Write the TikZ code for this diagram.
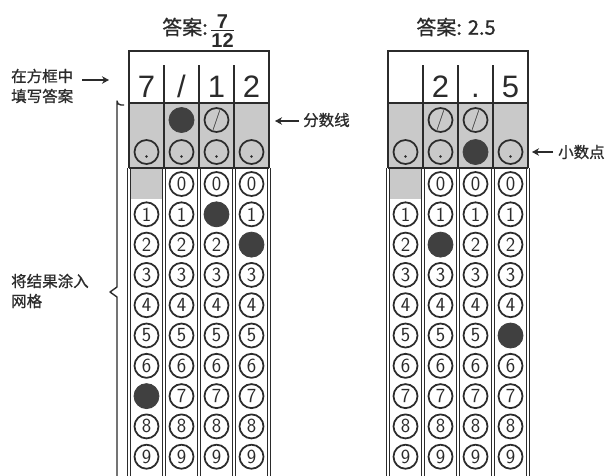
\documentclass[tikz,border=0pt]{standalone}
\usepackage{fontspec}
\usetikzlibrary{arrows.meta}
\newfontfamily\cjk{Noto Sans CJK SC}[FakeBold=0.9]
\newfontfamily\hd{Liberation Sans}
\definecolor{ink}{HTML}{2B2B2B}
\definecolor{gryfill}{HTML}{C9C9C9}
\definecolor{darkfill}{HTML}{404040}
% filled bubbles
\expandafter\def\csname fillL07\endcsname{}
\expandafter\def\csname fillL21\endcsname{}
\expandafter\def\csname fillL32\endcsname{}
\expandafter\def\csname fillLs1\endcsname{}
\expandafter\def\csname fillR12\endcsname{}
\expandafter\def\csname fillR35\endcsname{}
\expandafter\def\csname fillRd2\endcsname{}
\begin{document}
\begin{tikzpicture}[x=1pt,y=-1pt,
  bub/.style={circle,draw=ink,line width=1.75pt,minimum size=24pt,inner sep=0pt,
    font=\sffamily\fontsize{20}{20}\selectfont,text=ink},
  fbub/.style={circle,fill=darkfill,draw=darkfill,line width=0.8pt,minimum size=25pt,inner sep=0pt},
  frame/.style={draw=ink,line width=1.6pt},
  sep/.style={draw=ink,line width=1.4pt},
  dbl/.style={draw=ink,line width=0.8pt,double=white,double distance=1.5pt},
  hdtxt/.style={font=\hd\fontsize{31}{31}\selectfont,text=ink,inner sep=0pt,anchor=base},
  lbl/.style={font=\cjk\fontsize{15.5}{20}\selectfont,text=ink,align=left,inner sep=0pt},
  ttl/.style={font=\cjk\fontsize{20}{20}\selectfont,text=ink,inner sep=0pt},
  arr/.style={draw=ink,line width=1.5pt,-{Stealth[length=7pt,width=7.5pt]}},
]
\useasboundingbox[fill=white] (0,0) rectangle (609,475);

\foreach \g/\dx in {L/0,R/259}{
  \begin{scope}[xshift=\dx pt]
    \fill[gryfill] (129,103) rectangle (269,168);
    \fill[gryfill] (129,168) rectangle (164,199);
    \foreach \x in {129,164,199,234,269} \draw[dbl] (\x,168) -- (\x,480);
    \draw[frame] (129,103) -- (129,51) -- (269,51) -- (269,103);
    \draw[sep] (129,103) -- (129,168) (269,103) -- (269,168);
    \foreach \x in {164,199,234} \draw[sep] (\x,65) -- (\x,168);
    \draw[frame] (129,103) -- (269,103);
    \draw[frame] (129,168) -- (269,168);
  \end{scope}
  % digit bubbles
  \foreach \c in {0,...,3}{
    \foreach \d in {0,...,9}{
      \pgfmathsetmacro\px{146.5+35*\c+\dx}
      \pgfmathsetmacro\py{184+30.3*\d}
      \ifnum\numexpr\c+\d\relax>0
        \ifcsname fill\g\c\d\endcsname
          \node[fbub] (\g\c\d) at (\px,\py) {};
        \else
          \node[bub] (\g\c\d) at (\px,\py) {\d};
        \fi
      \fi
    }
    % decimal point bubbles
    \pgfmathsetmacro\px{146.5+35*\c+\dx}
    \ifcsname fill\g d\c\endcsname
      \node[fbub] (\g d\c) at (\px,152) {};
    \else
      \node[bub] (\g d\c) at (\px,152) {};
      \fill[ink] (\g d\c.center) ++(0,4.5) circle (1.3);
    \fi
  }
  % fraction bar bubbles
  \foreach \c in {1,2}{
    \pgfmathsetmacro\px{146.5+35*\c+\dx}
    \ifcsname fill\g s\c\endcsname
      \node[fbub] (\g s\c) at (\px,120) {};
    \else
      \node[bub] (\g s\c) at (\px,120) {/};
    \fi
  }
}

% header entries
\node[hdtxt] (hL0) at (146.5,97) {7};
\node[hdtxt] (hL1) at (181.5,97) {/};
\node[hdtxt] (hL2) at (216.5,97) {1};
\node[hdtxt] (hL3) at (251.5,97) {2};
\node[hdtxt] (hR1) at (440.5,97) {2};
\node[hdtxt] (hR2) at (475.5,97) {.};
\node[hdtxt] (hR3) at (510.5,97) {5};

% titles
\node[ttl,anchor=east] (t1) at (208,27) {答案:};
\node[font=\hd\bfseries\fontsize{20}{20}\selectfont,text=ink,inner sep=0pt,anchor=base] (t1n) at (222.5,28) {7};
\node[font=\hd\bfseries\fontsize{20}{20}\selectfont,text=ink,inner sep=0pt,anchor=base] (t1d) at (222.5,47) {12};
\draw[ink,line width=1.8pt] (t1d.west |- 0,30.5) -- (t1d.east |- 0,30.5);
\node[ttl] (t2) at (456,27) {答案: 2.5};

% left labels
\node[lbl,anchor=west] (lab1) at (11,86) {在方框中\\填写答案};
\coordinate (a1s) at (82,80);
\coordinate (a1e) at (109,80);
\draw[arr] (a1s) -- (a1e);
\node[lbl,anchor=west] (lab2) at (11,291) {将结果涂入\\网格};

% right labels
\node[lbl,anchor=west] (lab3) at (303,120) {分数线};
\coordinate (a3s) at (299,121);
\coordinate (a3e) at (275,121);
\draw[arr] (a3s) -- (a3e);
\node[lbl,anchor=west] (lab4) at (558,152) {小数点};
\coordinate (a4s) at (553,152);
\coordinate (a4e) at (532,152);
\draw[arr] (a4s) -- (a4e);

% brace
\draw[ink,line width=1.4pt,line join=round]
  (124,105) -- (121,105) arc[start angle=90,end angle=180,radius=4] -- (117,287)
  -- (110,292) -- (117,297) -- (117,480);
\end{tikzpicture}
\end{document}
